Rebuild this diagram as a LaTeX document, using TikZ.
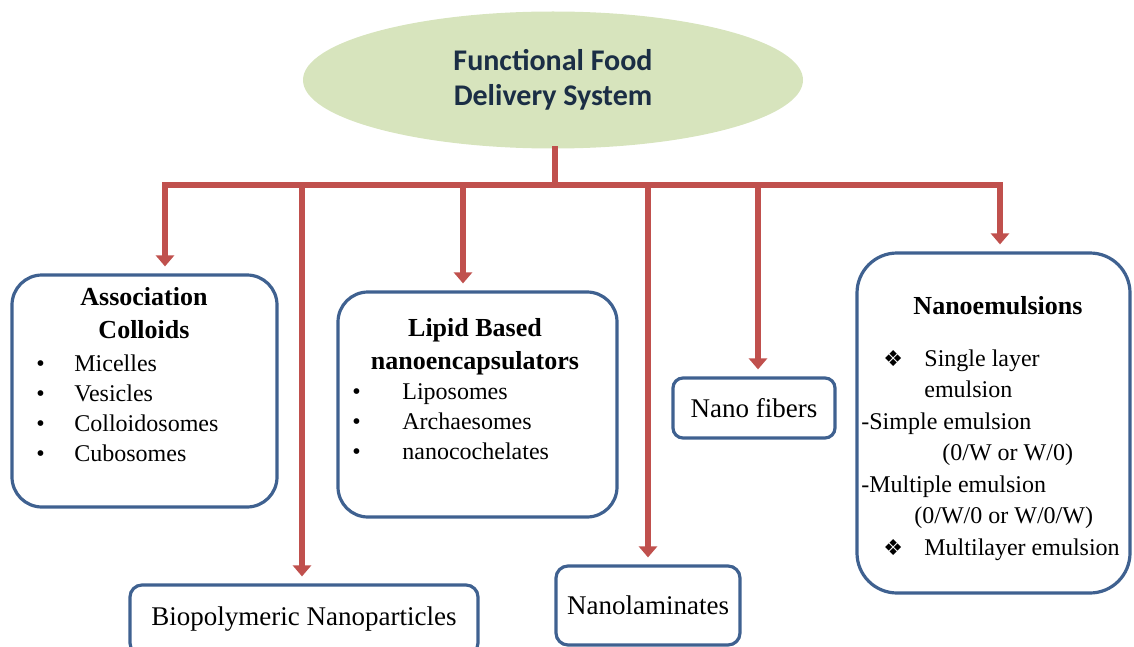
\documentclass[tikz,border=0pt]{standalone}
\usepackage{fontspec}
\setmainfont{Liberation Serif}
\newfontfamily\headfont{Carlito}
\newfontfamily\symfont{DejaVu Sans}
\usetikzlibrary{arrows.meta}
\usetikzlibrary{shapes.geometric}
\usetikzlibrary{fit}
\definecolor{linkred}{HTML}{C0504D}
\definecolor{boxblue}{HTML}{3F6190}
\definecolor{rootgreen}{HTML}{D7E4BD}
\definecolor{roottext}{HTML}{1B2E45}
\newcommand{\dotitem}[1][19pt]{\makebox[#1][l]{\textbullet}}
\newcommand{\diaitem}{\hspace*{11pt}\makebox[20.5pt][l]{\symfont\fontsize{11}{11}\selectfont ❖}}

\begin{document}
\begin{tikzpicture}[x=0.5pt,y=-0.5pt,
    box/.style={draw=boxblue,line width=1.6pt,rounded corners=#1,inner sep=0pt},
    link/.style={draw=linkred,line width=2.8pt,shorten >=3.5pt,-{Triangle[width=9pt,length=5.5pt]}},
    trunk/.style={draw=linkred,line width=2.8pt,line cap=rect},
    head/.style={font=\fontsize{13}{16.5}\selectfont\bfseries,align=center,inner sep=0pt},
    list/.style={font=\fontsize{12}{15}\selectfont,align=left,inner sep=0pt},
    label/.style={font=\fontsize{13.5}{16}\selectfont,inner sep=0pt}]
    \useasboundingbox (0,0) rectangle (1134,647);

    \node[ellipse,fill=rootgreen,minimum width=250pt,minimum height=68.5pt,inner sep=0pt,
          align=center,text=roottext,font=\headfont\fontsize{15}{17.5}\selectfont\bfseries]
          (root) at (553,80) {Functional Food\\Delivery System};

    \node[box=15pt,fit={(12,275) (277,507)}] (assoc) {};
    \node[box=15pt,fit={(338,292) (617,517)}] (lipid) {};
    \node[box=20pt,fit={(857,253) (1130,593)}] (emul) {};
    \node[box=5pt,fit={(673,378) (835,438)}] (fibers) {};
    \node[box=6pt,fit={(130,585) (478,655)}] (bio) {};
    \node[box=6pt,fit={(556,566) (740,645)}] (lam) {};

    \node[head,anchor=north] (assocH) at (144,287) {Association\\Colloids};
    \node[list,anchor=north west] (assocL) at (36,354)
        {\dotitem Micelles\\\dotitem Vesicles\\\dotitem Colloidosomes\\\dotitem Cubosomes};
    \node[head,anchor=north] (lipidH) at (475,318) {Lipid Based\\nanoencapsulators};
    \node[list,anchor=north west] (lipidL) at (352,383)
        {\dotitem[25pt]Liposomes\\\dotitem[25pt]Archaesomes\\\dotitem[25pt]nanocochelates};
    \node[head,anchor=north] (emulH) at (998,296) {Nanoemulsions};
    \node[list,anchor=north west,font=\fontsize{12}{15.75}\selectfont] (emulL) at (861,349)
        {\diaitem Single layer\\\hspace*{31.5pt}emulsion\\-Simple emulsion\\
         \hspace*{40.5pt}(0/W or W/0)\\-Multiple emulsion\\
         \hspace*{26.5pt}(0/W/0 or W/0/W)\\\diaitem Multilayer emulsion};
    \node[label] (fibersT) at (fibers.center) {Nano fibers};
    \node[label] (bioT) at (304,619) {Biopolymeric Nanoparticles};
    \node[label] (lamT) at (lam.center) {Nanolaminates};

    \coordinate (hub) at (555,185);
    \coordinate (b1) at (165,185);
    \coordinate (b2) at (302,185);
    \coordinate (b3) at (463,185);
    \coordinate (b4) at (648,185);
    \coordinate (b5) at (758,185);
    \coordinate (b6) at (1000,185);
    \draw[trunk] (root.south -| hub) -- (hub);
    \draw[trunk] (b1) -- (b6);
    \draw[link] (b1) -- (b1 |- assoc.north);
    \draw[link] (b2) -- (b2 |- bio.north);
    \draw[link] (b3) -- (b3 |- lipid.north);
    \draw[link] (b4) -- (b4 |- lam.north);
    \draw[link] (b5) -- (b5 |- fibers.north);
    \draw[link] (b6) -- (b6 |- emul.north);
\end{tikzpicture}
\end{document}
